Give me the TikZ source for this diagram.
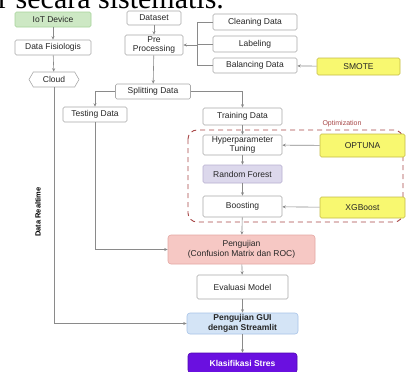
\documentclass[tikz,border=0pt]{standalone}
\usepackage{fontspec}
\setmainfont{Liberation Sans}
\newfontfamily\serifrm{Liberation Serif}
\usetikzlibrary{shapes.symbols,arrows.meta}
\definecolor{boxgray}{HTML}{A8A8A8}
\definecolor{linegray}{HTML}{8A8A8A}
\definecolor{iotfill}{HTML}{CDE8C4}
\definecolor{iotdraw}{HTML}{A8D49A}
\definecolor{yelfill}{HTML}{F8F870}
\definecolor{yeldraw}{HTML}{C4BC48}
\definecolor{rffill}{HTML}{DCD8EC}
\definecolor{rfdraw}{HTML}{B8B0D0}
\definecolor{pengfill}{HTML}{F6C8C4}
\definecolor{pengdraw}{HTML}{E4A8A4}
\definecolor{guifill}{HTML}{D4E4F6}
\definecolor{guidraw}{HTML}{A8C4E8}
\definecolor{klasfill}{HTML}{6A10E0}
\definecolor{klasdraw}{HTML}{5008B0}
\definecolor{optred}{HTML}{A84848}
\begin{document}
\begin{tikzpicture}[x=1pt,y=-1pt,
  box/.style={draw=boxgray, line width=0.6pt, rounded corners=1.5pt,
    font=\fontsize{8.5}{9.5}\selectfont, align=center, inner sep=0pt, text=black!85},
  yelbox/.style={box, fill=yelfill, draw=yeldraw},
  conn/.style={draw=linegray, line width=0.6pt},
  arr/.style={conn, -{Stealth[length=3.5pt,width=3pt]}}]
\useasboundingbox (0,0) rectangle (407,372);
\clip (0,0) rectangle (407,372);
\fill[white] (0,0) rectangle (407,372);

% cropped heading line
\node[anchor=base west, font=\serifrm\fontsize{30}{30}\selectfont, inner sep=0pt] (hdr) at (-2,9) {r secara sistematis.};

% optimization region
\draw[optred, line width=0.9pt, dash pattern=on 5pt off 4pt, rounded corners=9pt] (188,130) rectangle (403,222);
\node[font=\fontsize{7}{8}\selectfont, text=optred, inner sep=0pt] (optlbl) at (342,124) {Optimization};

% left column
\node[box, fill=iotfill, draw=iotdraw, minimum width=76pt, minimum height=15pt] (iot) at (53,19.5) {IoT Device};
\node[box, minimum width=76pt, minimum height=15pt] (fis) at (53,47.5) {Data Fisiologis};
\node[box, shape=signal, signal to=west and east, signal pointer angle=120, rounded corners=0pt, minimum width=50pt, minimum height=15pt] (cloud) at (54,79.5) {Cloud};

% dataset column
\node[box, minimum width=54pt, minimum height=14pt] (dataset) at (154,18) {Dataset};
\node[box, minimum width=58pt, minimum height=20pt] (pre) at (154,45) {Pre\\Processing};
\node[box, minimum width=84pt, minimum height=16pt] (clean) at (255,22) {Cleaning Data};
\node[box, minimum width=84pt, minimum height=16pt] (label) at (255,44) {Labeling};
\node[box, minimum width=84pt, minimum height=15pt] (bal) at (255,65.5) {Balancing Data};
\node[yelbox, minimum width=83pt, minimum height=17pt] (smote) at (358.5,66.5) {SMOTE};
\node[box, minimum width=75pt, minimum height=15pt] (split) at (153,91.5) {Splitting Data};
\node[box, minimum width=64pt, minimum height=15pt] (test) at (95,114.5) {Testing Data};
\node[box, minimum width=79pt, minimum height=17pt] (train) at (242.5,116.5) {Training Data};
\node[box, minimum width=79pt, minimum height=20pt] (hyper) at (242.5,145) {Hyperparameter\\Tuning};
\node[yelbox, minimum width=85pt, minimum height=23pt] (optuna) at (362.5,145.5) {OPTUNA};
\node[box, fill=rffill, draw=rfdraw, minimum width=79pt, minimum height=18pt] (rf) at (242.5,174) {Random Forest};
\node[box, minimum width=79pt, minimum height=21pt] (boost) at (242.5,206.5) {Boosting};
\node[yelbox, minimum width=85pt, minimum height=21pt] (xgb) at (362.5,207.5) {XGBoost};
\node[box, fill=pengfill, draw=pengdraw, rounded corners=3pt, minimum width=147pt, minimum height=29pt] (peng) at (241.5,249.5) {Pengujian\\(Confusion Matrix dan ROC)};
\node[box, minimum width=91pt, minimum height=24pt] (eval) at (242.5,287) {Evaluasi Model};
\node[box, fill=guifill, draw=guidraw, rounded corners=3pt, font=\bfseries\fontsize{8.5}{9.5}\selectfont, minimum width=111pt, minimum height=21pt] (gui) at (242.5,323.5) {Pengujian GUI\\dengan Streamlit};
\node[box, fill=klasfill, draw=klasdraw, rounded corners=3pt, text=white, font=\bfseries\fontsize{8.5}{9.5}\selectfont, minimum width=109pt, minimum height=20pt] (klas) at (242.5,363) {Klasifikasi Stres};

\node[rotate=90, font=\bfseries\fontsize{7.5}{8.5}\selectfont, inner sep=0pt] (realtime) at (38,212) {Data Realtime};

% connectors
\draw[arr] (iot) -- (fis);
\draw[arr] (fis) -- (cloud);
\draw[arr] (cloud.south) |- (gui.west);
\draw[arr] (dataset) -- (pre);
\coordinate (brk) at (197,45);
\draw[conn] (clean.west) -- (clean.west -| brk) -- (bal.west -| brk) -- (bal.west);
\draw[conn] (label.west) -- (label.west -| brk);
\draw[arr] (brk) -- (pre.east);
\draw[arr] (smote) -- (bal);
\draw[arr] (pre) -- (split);
\draw[arr] (split.west) -| (test.north);
\draw[arr] (split.east) -| (train.north);
\draw[arr] (train) -- (hyper);
\draw[arr] (hyper) -- (rf);
\draw[arr] (rf) -- (boost);
\draw[arr] (boost) -- (peng);
\draw[arr] (optuna) -- (hyper);
\draw[arr] (xgb) -- (boost);
\draw[arr] (test.south) |- (peng.west);
\draw[arr] (peng) -- (eval);
\draw[arr] (eval) -- (gui);
\draw[arr] (gui) -- (klas);
\end{tikzpicture}
\end{document}
